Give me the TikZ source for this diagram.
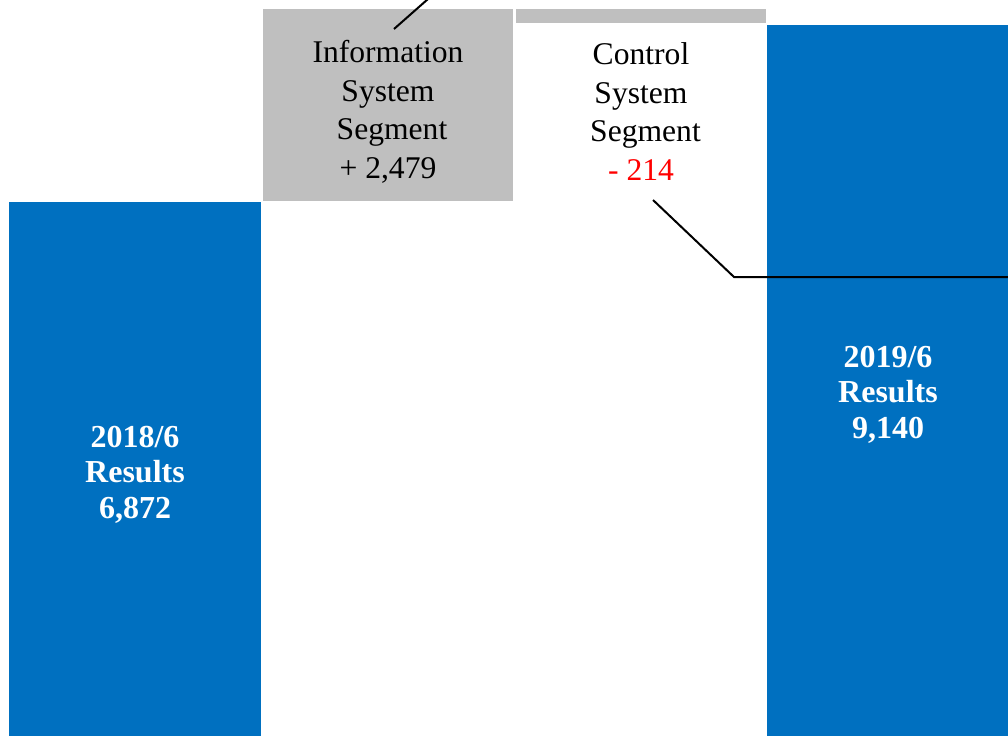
\documentclass[tikz,border=0pt]{standalone}
\usepackage{fontspec}
\setmainfont{Liberation Serif}
\definecolor{barblue}{HTML}{0070C0}
\definecolor{segray}{HTML}{BFBFBF}
\definecolor{negred}{HTML}{FF0000}
\begin{document}
\begin{tikzpicture}[x=1pt,y=-1pt,
  barbox/.style={fill=barblue,draw=none},
  graybox/.style={fill=segray,draw=none},
  anchorpt/.style={inner sep=0pt,minimum size=0pt},
  seglabel/.style={align=center,inner sep=0pt,font=\fontsize{31.6}{38.5}\selectfont,anchor=base},
  resultlabel/.style={align=center,inner sep=0pt,text=white,font=\fontsize{32}{35.3}\selectfont\bfseries,anchor=base},
  leader/.style={draw=black,line width=2pt}]
\useasboundingbox (0,0) rectangle (1008,736);
\fill[white] (0,0) rectangle (1008,736);
% bars
\path[barbox] (9,202) rectangle (261,736);
\node[anchorpt] (bar2018) at (135,469) {};
\path[graybox] (263,9) rectangle (513,201);
\node[anchorpt] (infobox) at (388,105) {};
\path[graybox] (516,9) rectangle (766,23);
\node[anchorpt] (ctrlbar) at (641,16) {};
\path[barbox] (767,25) rectangle (1008,736);
\node[anchorpt] (bar2019) at (887.5,380) {};
% labels
\node[seglabel] (infolabel) at (388,178) {Information\\System\\\hspace*{8pt}Segment\\+ 2,479};
\node[seglabel] (ctrllabel) at (641,180) {Control\\System\\\hspace*{9pt}Segment\\\textcolor{negred}{- 214}};
\node[resultlabel] (res2018) at (135,518) {2018/6\\Results\\6,872};
\node[resultlabel] (res2019) at (888,438) {2019/6\\Results\\9,140};
% leaders
\coordinate (infoend) at (428,-1);
\coordinate (infostart) at (394,29);
\coordinate (ctrlstart) at (653,200);
\coordinate (ctrlbend) at (734,277);
\coordinate (ctrlend) at (1009,277);
\draw[leader] (infostart) -- (infoend);
\draw[leader] (ctrlstart) -- (ctrlbend) -- (ctrlend);
\end{tikzpicture}
\end{document}
